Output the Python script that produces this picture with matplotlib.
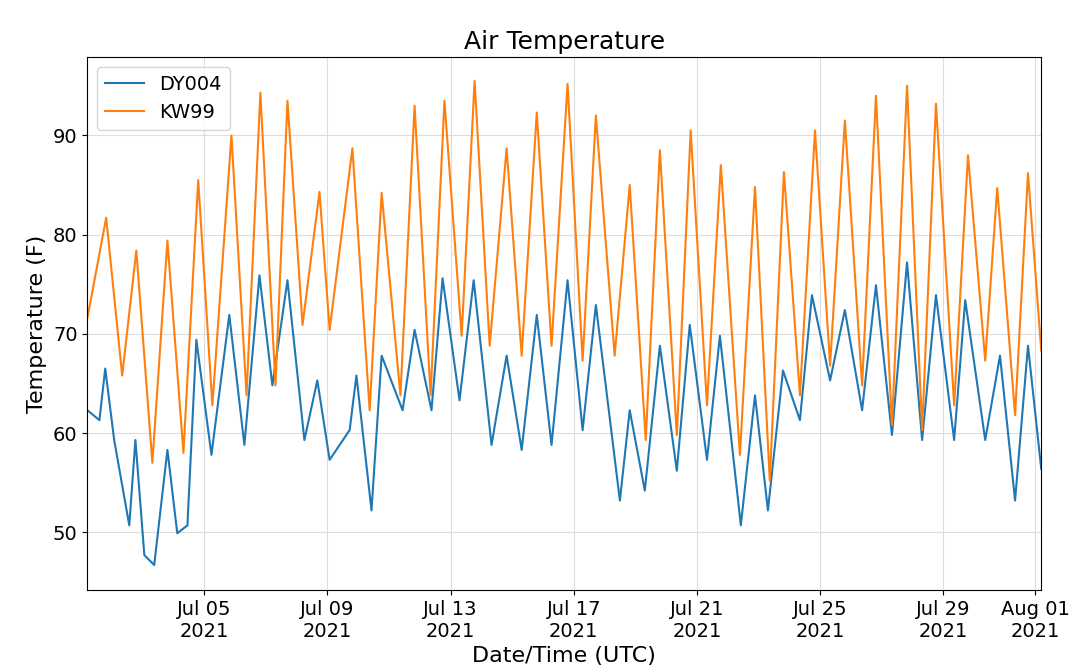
import numpy as np
import pandas as pd
import matplotlib
matplotlib.use('Agg')
import matplotlib.pyplot as plt
import matplotlib.dates as mdates

# days since 2021-07-01 00:00 UTC (peaks and troughs)
kw99_days = [0.20, 0.81, 1.33, 1.79, 2.31, 2.80, 3.32, 3.80, 4.26, 4.88, 5.37, 5.82,
             6.31, 6.70, 7.19, 7.74, 8.07, 8.81, 9.37, 9.76, 10.37, 10.83, 11.35, 11.80,
             12.36, 12.78, 13.27, 13.82, 14.31, 14.80, 15.28, 15.80, 16.29, 16.72, 17.33,
             17.82, 18.34, 18.80, 19.35, 19.80, 20.33, 20.78, 21.40, 21.89, 22.37, 22.83,
             23.35, 23.84, 24.33, 24.81, 25.37, 25.82, 26.34, 26.83, 27.32, 27.77, 28.36,
             28.81, 29.37, 29.76, 30.34, 30.76, 31.19]
kw99_temp = [71.6, 81.7, 65.8, 78.4, 57.0, 79.4, 58.0, 85.5, 62.8, 90.0, 63.8, 94.3,
             64.8, 93.5, 70.9, 84.3, 70.4, 88.7, 62.3, 84.2, 63.8, 93.0, 63.8, 93.5,
             69.8, 95.5, 68.8, 88.7, 67.8, 92.3, 68.8, 95.2, 67.3, 92.0, 67.8,
             85.0, 59.3, 88.5, 59.8, 90.5, 62.8, 87.0, 57.8, 84.8, 55.2, 86.3,
             63.8, 90.5, 66.8, 91.5, 64.8, 94.0, 60.8, 95.0, 60.3, 93.2, 62.8,
             88.0, 67.3, 84.7, 61.8, 86.2, 68.3]

dy004_days = [0.20, 0.59, 0.78, 1.07, 1.56, 1.76, 2.05, 2.37, 2.80, 3.12, 3.45, 3.74,
              4.23, 4.81, 5.30, 5.79, 6.21, 6.70, 7.25, 7.67, 8.07, 8.72, 8.94, 9.43,
              9.76, 10.44, 10.83, 11.38, 11.74, 12.29, 12.75, 13.33, 13.82, 14.31, 14.80,
              15.28, 15.80, 16.29, 16.72, 17.50, 17.82, 18.31, 18.80, 19.35, 19.77, 20.33,
              20.75, 21.43, 21.89, 22.31, 22.80, 23.35, 23.74, 24.33, 24.81, 25.37, 25.82,
              26.34, 26.83, 27.32, 27.77, 28.36, 28.72, 29.37, 29.85, 30.34, 30.76, 31.19]
dy004_temp = [62.3, 61.3, 66.5, 59.3, 50.7, 59.3, 47.7, 46.7, 58.3, 49.9, 50.7, 69.4,
              57.8, 71.9, 58.8, 75.9, 64.8, 75.4, 59.3, 65.3, 57.3, 60.3, 65.8, 52.2,
              67.8, 62.3, 70.4, 62.3, 75.6, 63.3, 75.4, 58.8, 67.8, 58.3, 71.9,
              58.8, 75.4, 60.3, 72.9, 53.2, 62.3, 54.2, 68.8, 56.2, 70.9, 57.3,
              69.8, 50.7, 63.8, 52.2, 66.3, 61.3, 73.9, 65.3, 72.4, 62.3, 74.9,
              59.8, 77.2, 59.3, 73.9, 59.3, 73.4, 59.3, 67.8, 53.2, 68.8, 56.4]

start = pd.Timestamp('2021-07-01')
kw99_t = start + pd.to_timedelta(kw99_days, unit='D')
dy004_t = start + pd.to_timedelta(dy004_days, unit='D')

fig = plt.figure(figsize=(10.79, 6.71), dpi=100)
ax = fig.add_axes([0.081, 0.121, 0.884, 0.794])
ax.plot(dy004_t, dy004_temp, color='#1f77b4', lw=1.5, label='DY004')
ax.plot(kw99_t, kw99_temp, color='#ff7f0e', lw=1.5, label='KW99')

ax.set_xlim(kw99_t[0], kw99_t[-1])
ax.set_ylim(44.2, 97.9)
ticks = pd.to_datetime(['2021-07-05', '2021-07-09', '2021-07-13', '2021-07-17',
                        '2021-07-21', '2021-07-25', '2021-07-29', '2021-08-01'])
ax.set_xticks(ticks)
ax.xaxis.set_major_formatter(mdates.DateFormatter('%b %d\n%Y'))
ax.tick_params(labelsize=14)
ax.grid(True, color='#dddddd', lw=0.8)
ax.set_title('Air Temperature', fontsize=18)
ax.set_xlabel('Date/Time (UTC)', fontsize=16)
ax.set_ylabel('Temperature (F)', fontsize=16)
ax.legend(loc='upper left', fontsize=14)
fig.savefig('out.png', dpi=100)
